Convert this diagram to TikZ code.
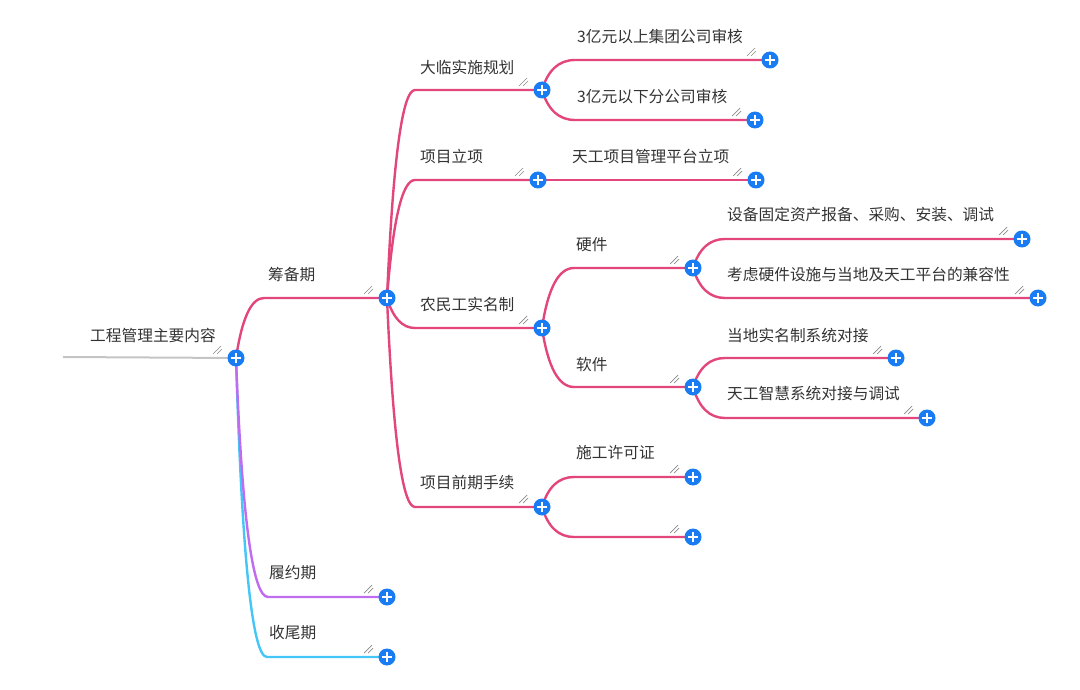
\documentclass[tikz,border=0pt]{standalone}
\usepackage{fontspec}
\setmainfont{Noto Sans CJK SC}
\usetikzlibrary{calc}
\definecolor{pinkl}{HTML}{E2467A}
\definecolor{purpl}{HTML}{C06CF0}
\definecolor{bluel}{HTML}{44C6F7}
\definecolor{rootl}{HTML}{C4C4C4}
\definecolor{plusb}{HTML}{1A7CF3}
\definecolor{txt}{HTML}{333333}
\definecolor{hatchc}{HTML}{8A8A8A}
\newcommand\hatchmark[1]{%
  \draw[hatchc,line width=0.7pt] ([shift={(-23,-4)}]#1.center) -- ++(8,-8);
  \draw[hatchc,line width=0.7pt] ([shift={(-19,-4)}]#1.center) -- ++(5,-5);}
% #1 style, #2 parent, #3 child, #4 horizontal offset of curve end
\newcommand\conn[4]{%
  \path (#2 |- #3) ++(9,0) coordinate (q) ++(#4-9,0) coordinate (e);
  \draw[#1] (#2) .. controls ($(#2)!0.667!(q)$) and ($(e)!0.667!(q)$) .. (e) -- (#3);}
\begin{document}
\begin{tikzpicture}[x=1pt,y=-1pt,
  pl/.style={circle,fill=plusb,minimum size=17pt,inner sep=0pt,
    path picture={\draw[white,line width=2.2pt]
      ([xshift=-4.6pt]path picture bounding box.center) -- ([xshift=4.6pt]path picture bounding box.center)
      ([yshift=-4.6pt]path picture bounding box.center) -- ([yshift=4.6pt]path picture bounding box.center);}},
  lbl/.style={anchor=west,inner sep=0pt,text=txt,font=\fontsize{15.7}{18}\selectfont},
  br/.style={line width=2.4pt},
  pk/.style={br,draw=pinkl},
  pu/.style={br,draw=purpl},
  bl/.style={br,draw=bluel}]
\useasboundingbox (0,0) rectangle (1080,690);
\coordinate (rs) at (63,357);
\coordinate (c0) at (236,358);
\coordinate (c1) at (387,298);
\coordinate (c2) at (387,597);
\coordinate (c3) at (387,657);
\coordinate (c11) at (542,90);
\coordinate (c12) at (538,180);
\coordinate (c13) at (542,328);
\coordinate (c14) at (542,507);
\coordinate (c111) at (770,60);
\coordinate (c112) at (755,120);
\coordinate (c121) at (756,180);
\coordinate (c131) at (693,268);
\coordinate (c132) at (693,387);
\coordinate (c141) at (693,477);
\coordinate (c142) at (693,537);
\coordinate (c1311) at (1022,239);
\coordinate (c1312) at (1038,298);
\coordinate (c1321) at (896,358);
\coordinate (c1322) at (927,418);
% connectors
\draw[line width=2pt,rootl] (rs) -- (c0);
\conn{bl}{c0}{c3}{31}
\conn{pu}{c0}{c2}{32}
\conn{pk}{c0}{c1}{28}
\conn{pk}{c1}{c11}{28}
\conn{pk}{c1}{c12}{28}
\conn{pk}{c1}{c13}{28}
\conn{pk}{c1}{c14}{28}
\conn{pk}{c11}{c111}{33}
\conn{pk}{c11}{c112}{33}
\draw[pk] (c12) -- (c121);
\conn{pk}{c13}{c131}{32}
\conn{pk}{c13}{c132}{32}
\conn{pk}{c14}{c141}{32}
\conn{pk}{c14}{c142}{32}
\conn{pk}{c131}{c1311}{32}
\conn{pk}{c131}{c1312}{32}
\conn{pk}{c132}{c1321}{32}
\conn{pk}{c132}{c1322}{32}
% plus icons
\foreach \n in {0,1,2,3,11,12,13,14,111,112,121,131,132,141,142,1311,1312,1321,1322}{
  \node[pl] (p\n) at (c\n) {};
  \hatchmark{p\n}
}
% labels
\node[lbl] (t0) at (90,335) {工程管理主要内容};
\node[lbl] (t1) at (268,275) {筹备期};
\node[lbl] (t2) at (269,573) {履约期};
\node[lbl] (t3) at (269,633) {收尾期};
\node[lbl] (t11) at (420,67) {大临实施规划};
\node[lbl] (t12) at (420,156) {项目立项};
\node[lbl] (t13) at (420,305) {农民工实名制};
\node[lbl] (t14) at (420,483) {项目前期手续};
\node[lbl] (t111) at (577,37) {3亿元以上集团公司审核};
\node[lbl] (t112) at (577,97) {3亿元以下分公司审核};
\node[lbl] (t121) at (572,156) {天工项目管理平台立项};
\node[lbl] (t131) at (576,245) {硬件};
\node[lbl] (t132) at (576,365) {软件};
\node[lbl] (t141) at (576,453) {施工许可证};
\node[lbl] (t1311) at (727,215) {设备固定资产报备、采购、安装、调试};
\node[lbl] (t1312) at (727,275) {考虑硬件设施与当地及天工平台的兼容性};
\node[lbl] (t1321) at (727,335) {当地实名制系统对接};
\node[lbl] (t1322) at (727,394) {天工智慧系统对接与调试};
\end{tikzpicture}
\end{document}
